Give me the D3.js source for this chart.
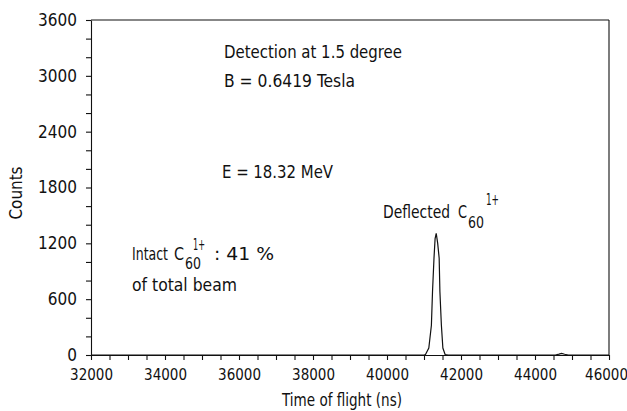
<!DOCTYPE html>
<html>
<head>
<meta charset="utf-8">
<script src="https://cdn.jsdelivr.net/npm/d3@7"></script>
<style>
  body { margin: 0; background: #fff; }
  svg { display: block; }
  text { font-family: "Liberation Sans Narrow", "DejaVu Sans Condensed", "Roboto Condensed", sans-serif; fill: #111; }
</style>
</head>
<body>
<script>
// Spectrum: time of flight (ns) and counts
const timeNs = [32000, 34000, 36000, 38000, 40000, 40800, 41000, 41040, 41130, 41200, 41230, 41270,
                41300, 41330, 41370, 41410, 41430, 41470, 41510, 41570, 41650, 42000, 43000, 44000,
                44550, 44650, 44720, 44800, 44900, 45500, 46000];
const counts = [0, 0, 0, 0, 0, 0, 0, 5, 75, 320, 680, 1040,
                1250, 1308, 1200, 1040, 680, 320, 75, 5, 0, 0, 0, 0,
                0, 10, 18, 8, 0, 0, 0];

const xTicks = d3.range(32000, 46001, 500);
const xLabels = [32000, 34000, 36000, 38000, 40000, 42000, 44000, 46000];
const yTicks = d3.range(0, 3601, 200);
const yLabels = [0, 600, 1200, 1800, 2400, 3000, 3600];

const width = 627, height = 411;
const margin = { top: 20, right: 18, bottom: 56, left: 91 };

const svg = d3.select("body").append("svg")
    .attr("width", width)
    .attr("height", height);

const x = d3.scaleLinear()
    .domain([32000, 46000])
    .range([margin.left, width - margin.right]);

const y = d3.scaleLinear()
    .domain([0, 3600])
    .range([height - margin.bottom, margin.top]);

// Bottom axis
const xAxis = svg.append("g")
    .attr("transform", `translate(0,${height - margin.bottom})`)
    .call(d3.axisBottom(x)
        .tickValues(xTicks)
        .tickSize(5)
        .tickSizeOuter(0)
        .tickPadding(9)
        .tickFormat(d => xLabels.includes(d) ? d : ""));

// Left axis
const yAxis = svg.append("g")
    .attr("transform", `translate(${margin.left},0)`)
    .call(d3.axisLeft(y)
        .tickValues(yTicks)
        .tickSize(5)
        .tickSizeOuter(0)
        .tickPadding(9)
        .tickFormat(d => yLabels.includes(d) ? d : ""));

[xAxis, yAxis].forEach(g => {
    g.attr("font-family", null).attr("font-size", null);
    g.selectAll("path, line").attr("stroke", "#111").attr("stroke-width", 1.1);
});
xAxis.selectAll("text").style("font-size", "15px");
// last label sits against the right edge, nudge it in a little
xAxis.selectAll(".tick").filter(d => d === 46000).select("text").attr("dx", -3);
yAxis.selectAll("text").style("font-size", "17px");

// Top and right frame
svg.append("line")
    .attr("x1", x(32000)).attr("x2", x(46000))
    .attr("y1", y(3600)).attr("y2", y(3600))
    .attr("stroke", "#111").attr("stroke-width", 1.1);
svg.append("line")
    .attr("x1", x(46000)).attr("x2", x(46000))
    .attr("y1", y(3600)).attr("y2", y(0))
    .attr("stroke", "#111").attr("stroke-width", 1.1);

// Spectrum line
const line = d3.line()
    .x((d, i) => x(timeNs[i]))
    .y(d => y(d));

svg.append("path")
    .datum(counts)
    .attr("fill", "none")
    .attr("stroke", "#111")
    .attr("stroke-width", 1.2)
    .attr("d", line);

// Text helper
function label(txt, tx, ty, size, len) {
    const t = svg.append("text")
        .attr("x", tx)
        .attr("y", ty)
        .style("font-size", size + "px")
        .text(txt);
    if (len) t.attr("textLength", len).attr("lengthAdjust", "spacingAndGlyphs");
    return t;
}

// Label made of pieces (for C60 with sub/superscripts): [text, x, y, size, length]
function compound(parts) {
    const t = svg.append("text");
    parts.forEach(([txt, tx, ty, size, len]) => {
        const s = t.append("tspan")
            .attr("x", tx)
            .attr("y", ty)
            .style("font-size", size + "px")
            .text(txt);
        if (len) s.attr("textLength", len).attr("lengthAdjust", "spacingAndGlyphs");
    });
    return t;
}

// Axis titles
label("Time of flight (ns)", 282, 406, 18, 120);
svg.append("text")
    .attr("transform", "translate(22,193) rotate(-90)")
    .attr("text-anchor", "middle")
    .attr("textLength", 53)
    .attr("lengthAdjust", "spacingAndGlyphs")
    .style("font-size", "18px")
    .text("Counts");

// Annotations
label("Detection at 1.5 degree", 224, 58, 18, 178);
label("B = 0.6419 Tesla", 224, 87, 18, 131);
label("E = 18.32 MeV", 222, 178, 18, 111);

compound([
    ["Deflected", 383, 218, 18, 67],
    ["C", 458, 218, 18, 9],
    ["60", 468, 228, 15, 16],
    ["1+", 486, 205, 15, 13]
]);

compound([
    ["Intact", 132, 260, 18, 36],
    ["C", 174, 260, 18, 10],
    ["60", 185, 269, 15, 16],
    ["1+", 193, 250, 15, 12],
    [": 41 %", 214, 260, 18, 60]
]);
label("of total beam", 132, 291, 18, 105);
</script>
</body>
</html>
